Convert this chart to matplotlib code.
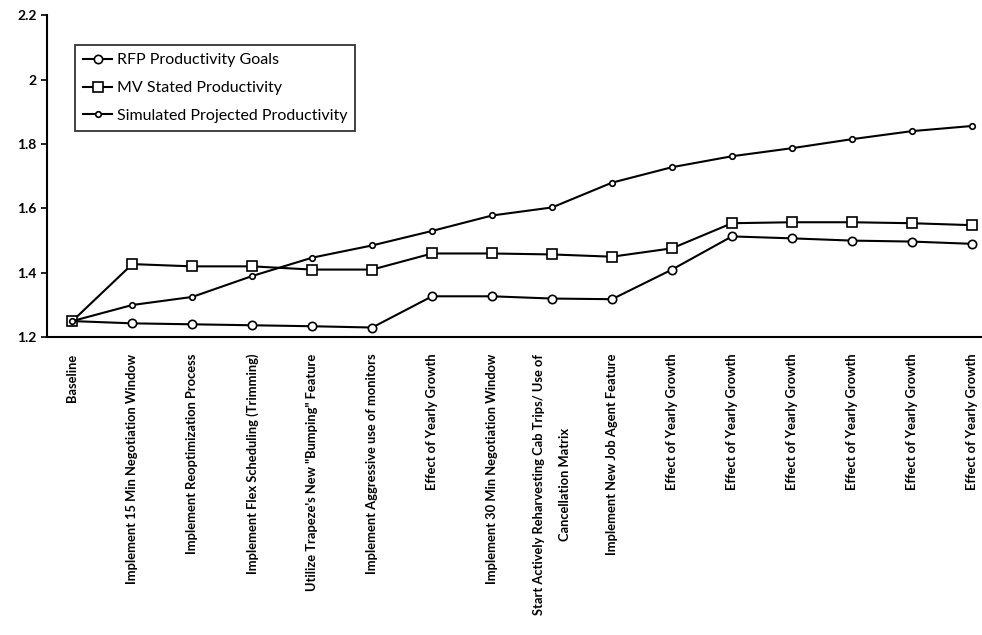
import numpy as np
import matplotlib
matplotlib.use("Agg")
import matplotlib.pyplot as plt

plt.rcParams['font.family'] = ['Lato', 'DejaVu Sans']

# scenario steps along the x axis
steps = [
    "Baseline",
    "Implement 15 Min Negotiation Window",
    "Implement Reoptimization Process",
    "Implement Flex Scheduling (Trimming)",
    "Utilize Trapeze's New \"Bumping\" Feature",
    "Implement Aggressive use of monitors",
    "Effect of Yearly Growth",
    "Implement 30 Min Negotiation Window",
    "Start Actively Reharvesting Cab Trips/ Use of\nCancellation Matrix",
    "Implement New Job Agent Feature",
    "Effect of Yearly Growth",
    "Effect of Yearly Growth",
    "Effect of Yearly Growth",
    "Effect of Yearly Growth",
    "Effect of Yearly Growth",
    "Effect of Yearly Growth",
]

rfp_goals = [1.25, 1.243, 1.24, 1.237, 1.234, 1.23, 1.327, 1.327,
             1.32, 1.318, 1.41, 1.513, 1.507, 1.50, 1.497, 1.49]
mv_stated = [1.25, 1.427, 1.42, 1.42, 1.41, 1.41, 1.46, 1.46,
             1.457, 1.45, 1.476, 1.554, 1.557, 1.557, 1.554, 1.548]
simulated = [1.25, 1.30, 1.325, 1.39, 1.447, 1.485, 1.53, 1.578,
             1.603, 1.68, 1.728, 1.762, 1.787, 1.815, 1.84, 1.856]

x = np.arange(len(steps))

fig = plt.figure(figsize=(9.82, 6.35), dpi=100)
ax = fig.add_axes([0.048, 0.469, 0.952, 0.507])

ax.plot(x, rfp_goals, color='black', lw=1.5, marker='o', ms=6,
        mfc='white', mec='black', mew=1.2, label='RFP Productivity Goals')
ax.plot(x, mv_stated, color='black', lw=1.5, marker='s', ms=7,
        mfc='white', mec='black', mew=1.2, label='MV Stated Productivity')
ax.plot(x, simulated, color='black', lw=1.5, marker='o', ms=4,
        mfc='white', mec='black', mew=1.2, label='Simulated Projected Productivity')

ax.set_xlim(-0.42, 15.17)
ax.set_ylim(1.2, 2.2)
ax.set_yticks([1.2, 1.4, 1.6, 1.8, 2.0, 2.2])
ax.set_yticklabels(['1.2', '1.4', '1.6', '1.8', '2', '2.2'],
                   fontsize=10, fontweight='bold')
ax.set_xticks(x)
ax.set_xticklabels(steps, rotation=90, fontsize=9.3, fontweight='bold',
                   ha='center', va='top', multialignment='center')
for lbl in ax.get_xticklabels():
    if '\n' in lbl.get_text():
        lbl.set_linespacing(2.4)
ax.tick_params(axis='x', length=0, pad=12)
ax.tick_params(axis='y', length=4, width=1.2, direction='out')

for side in ('top', 'right'):
    ax.spines[side].set_visible(False)
for side in ('left', 'bottom'):
    ax.spines[side].set_linewidth(1.5)

leg = ax.legend(loc='upper left', bbox_to_anchor=(0.03, 0.907),
                fontsize=11.5, frameon=True, fancybox=False,
                handlelength=1.8, handletextpad=0.3, borderpad=0.5,
                labelspacing=0.85, borderaxespad=0)
leg.get_frame().set_edgecolor('black')
leg.get_frame().set_linewidth(1.3)

fig.savefig('out.png', dpi=100)
